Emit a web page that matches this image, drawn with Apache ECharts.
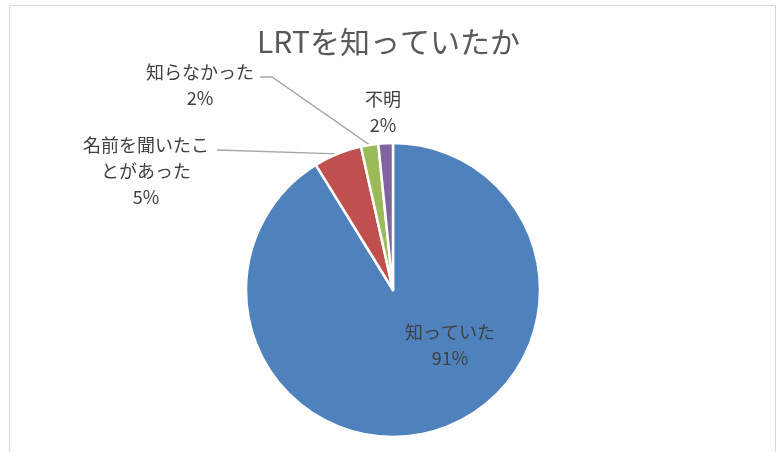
<!DOCTYPE html>
<html>
<head>
<meta charset="utf-8">
<script src="https://cdn.jsdelivr.net/npm/echarts@6/dist/echarts.min.js"></script>
<style>
    html, body { margin: 0; padding: 0; background: #fff; }
    #chart { width: 777px; height: 452px; }
</style>
</head>
<body>
<div id="chart"></div>
<script>
    const titleText = 'LRTを知っていたか';
    const categories = ['知っていた', '名前を聞いたことがあった', '知らなかった', '不明'];
    const shares = [91.2, 5.3, 1.9, 1.6];
    const COLORS = ['#4F81BD', '#C0504D', '#9BBB59', '#8064A2'];

    // label centres and leader-line bends, indexed like categories
    const labelSpots = [[450, 345], [146, 171], [200, 85], [383, 112]];
    const lineBends = [null, [[217, 150]], [[260, 77], [272, 77]], null];

    const option = {
        color: COLORS,
        animation: false,
        title: {
            text: titleText,
            left: 'center',
            top: 27,
            padding: 0,
            textStyle: {
                fontFamily: 'Noto Sans CJK JP',
                fontSize: 30,
                fontWeight: 'normal',
                color: '#595959'
            }
        },
        graphic: [{
            type: 'rect',
            shape: { x: 9.5, y: 5.5, width: 766, height: 470 },
            style: { fill: null, stroke: '#D9D9D9', lineWidth: 1 },
            silent: true
        }],
        series: [{
            type: 'pie',
            center: [393, 290],
            radius: 147,
            startAngle: 90,
            clockwise: true,
            percentPrecision: 0,
            itemStyle: { borderColor: '#fff', borderWidth: 2.5 },
            label: {
                show: true,
                position: 'outside',
                formatter: '{b}\n{d}%',
                fontFamily: 'Noto Sans CJK JP',
                fontSize: 18,
                lineHeight: 26,
                color: '#404040',
                align: 'center'
            },
            labelLine: {
                show: true,
                lineStyle: { color: '#A6A6A6', width: 1.3 }
            },
            labelLayout: function (params) {
                const i = params.dataIndex;
                const out = {
                    x: labelSpots[i][0],
                    y: labelSpots[i][1],
                    align: 'center',
                    verticalAlign: 'middle'
                };
                const pts = params.labelLinePoints;
                if (lineBends[i] && pts) {
                    out.labelLinePoints = lineBends[i].concat([pts[0]]);
                }
                return out;
            },
            data: categories.map(function (name, i) {
                const item = { name: name, value: shares[i] };
                if (i === 0) {
                    item.label = { position: 'inside' };
                    item.labelLine = { show: false };
                }
                if (i === 1) {
                    item.label = { width: 130, overflow: 'break' };
                }
                if (i === 3) {
                    item.labelLine = { show: false };
                }
                return item;
            })
        }]
    };

    const chart = echarts.init(document.getElementById('chart'));
    chart.setOption(option);
</script>
</body>
</html>
